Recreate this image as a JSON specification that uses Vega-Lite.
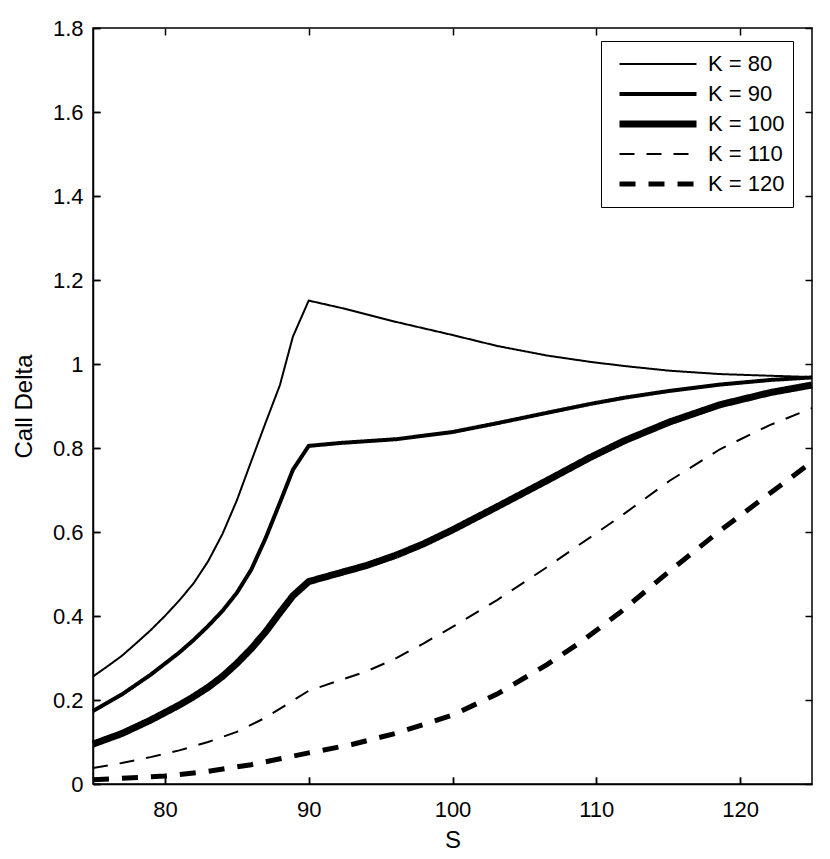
{
  "$schema": "https://vega.github.io/schema/vega-lite/v6.json",
  "width": 719,
  "height": 756,
  "autosize": {"type": "none"},
  "padding": {"left": 93, "top": 28, "right": 18, "bottom": 75},
  "background": "white",
  "config": {
    "font": "Liberation Sans",
    "view": {"stroke": "black", "strokeWidth": 1.5},
    "axis": {
      "grid": false,
      "domainColor": "black",
      "domainWidth": 1.5,
      "tickColor": "black",
      "tickWidth": 1.5,
      "labelColor": "black",
      "labelFont": "Liberation Sans",
      "labelFontSize": 22,
      "labelFlush": false,
      "labelOverlap": false,
      "titleColor": "black",
      "titleFont": "Liberation Sans",
      "titleFontSize": 24,
      "titleFontWeight": "normal"
    }
  },
  "data": {
    "values": [
      {"K": "K = 80", "S": 75, "delta": 0.256},
      {"K": "K = 80", "S": 76, "delta": 0.28},
      {"K": "K = 80", "S": 77, "delta": 0.305},
      {"K": "K = 80", "S": 78, "delta": 0.335},
      {"K": "K = 80", "S": 79, "delta": 0.366},
      {"K": "K = 80", "S": 80, "delta": 0.4},
      {"K": "K = 80", "S": 81, "delta": 0.437},
      {"K": "K = 80", "S": 82, "delta": 0.478},
      {"K": "K = 80", "S": 83, "delta": 0.53},
      {"K": "K = 80", "S": 84, "delta": 0.595},
      {"K": "K = 80", "S": 85, "delta": 0.675},
      {"K": "K = 80", "S": 86, "delta": 0.768},
      {"K": "K = 80", "S": 87, "delta": 0.86},
      {"K": "K = 80", "S": 88, "delta": 0.95},
      {"K": "K = 80", "S": 88.9, "delta": 1.065},
      {"K": "K = 80", "S": 90, "delta": 1.151},
      {"K": "K = 80", "S": 92.2, "delta": 1.134},
      {"K": "K = 80", "S": 96.1, "delta": 1.1},
      {"K": "K = 80", "S": 100, "delta": 1.069},
      {"K": "K = 80", "S": 103.1, "delta": 1.043},
      {"K": "K = 80", "S": 106.6, "delta": 1.02},
      {"K": "K = 80", "S": 109.6, "delta": 1.005},
      {"K": "K = 80", "S": 112, "delta": 0.995},
      {"K": "K = 80", "S": 115.1, "delta": 0.984},
      {"K": "K = 80", "S": 118.6, "delta": 0.976},
      {"K": "K = 80", "S": 122.1, "delta": 0.972},
      {"K": "K = 80", "S": 125, "delta": 0.969},

      {"K": "K = 90", "S": 75, "delta": 0.174},
      {"K": "K = 90", "S": 77, "delta": 0.213},
      {"K": "K = 90", "S": 79, "delta": 0.26},
      {"K": "K = 90", "S": 81, "delta": 0.313},
      {"K": "K = 90", "S": 82, "delta": 0.343},
      {"K": "K = 90", "S": 83, "delta": 0.376},
      {"K": "K = 90", "S": 84, "delta": 0.412},
      {"K": "K = 90", "S": 85, "delta": 0.455},
      {"K": "K = 90", "S": 86, "delta": 0.51},
      {"K": "K = 90", "S": 87, "delta": 0.585},
      {"K": "K = 90", "S": 88, "delta": 0.67},
      {"K": "K = 90", "S": 88.9, "delta": 0.748},
      {"K": "K = 90", "S": 90, "delta": 0.805},
      {"K": "K = 90", "S": 92.2, "delta": 0.812},
      {"K": "K = 90", "S": 96.1, "delta": 0.821},
      {"K": "K = 90", "S": 100, "delta": 0.838},
      {"K": "K = 90", "S": 103.1, "delta": 0.859},
      {"K": "K = 90", "S": 106.6, "delta": 0.884},
      {"K": "K = 90", "S": 109.6, "delta": 0.905},
      {"K": "K = 90", "S": 112, "delta": 0.92},
      {"K": "K = 90", "S": 115.1, "delta": 0.936},
      {"K": "K = 90", "S": 118.6, "delta": 0.951},
      {"K": "K = 90", "S": 122.1, "delta": 0.962},
      {"K": "K = 90", "S": 125, "delta": 0.968},

      {"K": "K = 100", "S": 75, "delta": 0.095},
      {"K": "K = 100", "S": 77, "delta": 0.12},
      {"K": "K = 100", "S": 79, "delta": 0.152},
      {"K": "K = 100", "S": 81, "delta": 0.188},
      {"K": "K = 100", "S": 82, "delta": 0.208},
      {"K": "K = 100", "S": 83, "delta": 0.23},
      {"K": "K = 100", "S": 84, "delta": 0.256},
      {"K": "K = 100", "S": 85, "delta": 0.287},
      {"K": "K = 100", "S": 86, "delta": 0.322},
      {"K": "K = 100", "S": 87, "delta": 0.362},
      {"K": "K = 100", "S": 88, "delta": 0.408},
      {"K": "K = 100", "S": 88.9, "delta": 0.448},
      {"K": "K = 100", "S": 90, "delta": 0.482},
      {"K": "K = 100", "S": 92.2, "delta": 0.503},
      {"K": "K = 100", "S": 94, "delta": 0.52},
      {"K": "K = 100", "S": 96.1, "delta": 0.545},
      {"K": "K = 100", "S": 98, "delta": 0.572},
      {"K": "K = 100", "S": 100, "delta": 0.605},
      {"K": "K = 100", "S": 103.1, "delta": 0.66},
      {"K": "K = 100", "S": 106.6, "delta": 0.723},
      {"K": "K = 100", "S": 109.6, "delta": 0.778},
      {"K": "K = 100", "S": 112, "delta": 0.818},
      {"K": "K = 100", "S": 115.1, "delta": 0.862},
      {"K": "K = 100", "S": 118.6, "delta": 0.903},
      {"K": "K = 100", "S": 122.1, "delta": 0.932},
      {"K": "K = 100", "S": 125, "delta": 0.95},

      {"K": "K = 110", "S": 75, "delta": 0.038},
      {"K": "K = 110", "S": 77, "delta": 0.05},
      {"K": "K = 110", "S": 79, "delta": 0.064},
      {"K": "K = 110", "S": 81, "delta": 0.08},
      {"K": "K = 110", "S": 83, "delta": 0.1},
      {"K": "K = 110", "S": 85, "delta": 0.124},
      {"K": "K = 110", "S": 87, "delta": 0.158},
      {"K": "K = 110", "S": 88.5, "delta": 0.19},
      {"K": "K = 110", "S": 90, "delta": 0.222},
      {"K": "K = 110", "S": 92, "delta": 0.245},
      {"K": "K = 110", "S": 94, "delta": 0.268},
      {"K": "K = 110", "S": 96, "delta": 0.298},
      {"K": "K = 110", "S": 98, "delta": 0.335},
      {"K": "K = 110", "S": 100, "delta": 0.374},
      {"K": "K = 110", "S": 103.1, "delta": 0.438},
      {"K": "K = 110", "S": 106.6, "delta": 0.517},
      {"K": "K = 110", "S": 108.2, "delta": 0.555},
      {"K": "K = 110", "S": 111.6, "delta": 0.635},
      {"K": "K = 110", "S": 115.1, "delta": 0.722},
      {"K": "K = 110", "S": 118.6, "delta": 0.797},
      {"K": "K = 110", "S": 122.1, "delta": 0.855},
      {"K": "K = 110", "S": 125, "delta": 0.895},

      {"K": "K = 120", "S": 75, "delta": 0.01},
      {"K": "K = 120", "S": 80, "delta": 0.019},
      {"K": "K = 120", "S": 83, "delta": 0.03},
      {"K": "K = 120", "S": 86, "delta": 0.046},
      {"K": "K = 120", "S": 90, "delta": 0.074},
      {"K": "K = 120", "S": 93, "delta": 0.094},
      {"K": "K = 120", "S": 96.1, "delta": 0.121},
      {"K": "K = 120", "S": 100, "delta": 0.164},
      {"K": "K = 120", "S": 103.1, "delta": 0.214},
      {"K": "K = 120", "S": 106.6, "delta": 0.285},
      {"K": "K = 120", "S": 109, "delta": 0.34},
      {"K": "K = 120", "S": 111.6, "delta": 0.407},
      {"K": "K = 120", "S": 115.1, "delta": 0.507},
      {"K": "K = 120", "S": 118.6, "delta": 0.603},
      {"K": "K = 120", "S": 122.1, "delta": 0.693},
      {"K": "K = 120", "S": 125, "delta": 0.767}
    ]
  },
  "layer": [
    {
      "mark": {"type": "line", "color": "black", "strokeCap": "butt", "strokeJoin": "miter"},
      "encoding": {
        "x": {
          "field": "S", "type": "quantitative",
          "scale": {"domain": [75, 125], "nice": false, "zero": false},
          "axis": {"orient": "bottom", "values": [80, 90, 100, 110, 120], "title": "S", "ticks": true, "tickSize": -7, "labelPadding": 22, "titlePadding": 8}
        },
        "y": {
          "field": "delta", "type": "quantitative",
          "scale": {"domain": [0, 1.8], "nice": false},
          "axis": {"orient": "left", "values": [0, 0.2, 0.4, 0.6, 0.8, 1, 1.2, 1.4, 1.6, 1.8], "format": "~g", "title": "Call Delta", "ticks": true, "tickSize": -7, "labelPadding": 17, "titlePadding": 16}
        },
        "strokeWidth": {
          "field": "K", "type": "nominal",
          "scale": {"type": "ordinal", "domain": ["K = 80", "K = 90", "K = 100", "K = 110", "K = 120"], "range": [2, 4, 7, 2, 5]},
          "legend": {
            "orient": "none", "legendX": 508, "legendY": 13, "title": null,
            "symbolType": "stroke", "symbolSize": 5929, "symbolStrokeColor": "black", "symbolOffset": 7,
            "clipHeight": 30,
            "labelFontSize": 22, "labelFont": "Liberation Sans", "labelColor": "black", "labelOffset": 8, "labelLimit": 200,
            "padding": 8, "rowPadding": 0, "strokeColor": "black", "fillColor": "white"
          }
        },
        "strokeDash": {
          "field": "K", "type": "nominal",
          "scale": {"type": "ordinal", "domain": ["K = 80", "K = 90", "K = 100", "K = 110", "K = 120"], "range": [[1, 0], [1, 0], [1, 0], [15, 12], [16, 13]]},
          "legend": {
            "orient": "none", "legendX": 508, "legendY": 13, "title": null,
            "symbolType": "stroke", "symbolSize": 5929, "symbolStrokeColor": "black", "symbolOffset": 7,
            "clipHeight": 30,
            "labelFontSize": 22, "labelFont": "Liberation Sans", "labelColor": "black", "labelOffset": 8, "labelLimit": 200,
            "padding": 8, "rowPadding": 0, "strokeColor": "black", "fillColor": "white"
          }
        }
      }
    },
    {
      "mark": {"type": "line", "opacity": 0},
      "encoding": {
        "x": {"field": "S", "type": "quantitative", "scale": {"domain": [75, 125], "nice": false, "zero": false}, "axis": {"orient": "top", "values": [80, 90, 100, 110, 120], "labels": false, "domain": false, "title": null, "ticks": true, "tickSize": -7}},
        "y": {"field": "delta", "type": "quantitative", "scale": {"domain": [0, 1.8], "nice": false}, "axis": {"orient": "right", "values": [0, 0.2, 0.4, 0.6, 0.8, 1, 1.2, 1.4, 1.6, 1.8], "labels": false, "domain": false, "title": null, "ticks": true, "tickSize": -7}},
        "detail": {"field": "K", "type": "nominal"}
      }
    },
    {
      "mark": {"type": "line", "opacity": 0},
      "encoding": {
        "x": {"field": "S", "type": "quantitative", "scale": {"domain": [75, 125], "nice": false, "zero": false}, "axis": {"orient": "bottom", "values": [80, 90, 100, 110, 120], "labels": false, "domain": false, "title": null, "ticks": true, "tickSize": -7}},
        "y": {"field": "delta", "type": "quantitative", "scale": {"domain": [0, 1.8], "nice": false}, "axis": {"orient": "left", "values": [0, 0.2, 0.4, 0.6, 0.8, 1, 1.2, 1.4, 1.6, 1.8], "labels": false, "domain": false, "title": null, "ticks": true, "tickSize": -7}},
        "detail": {"field": "K", "type": "nominal"}
      }
    }
  ],
  "resolve": {"scale": {"x": "independent", "y": "independent"}, "axis": {"x": "independent", "y": "independent"}}
}
